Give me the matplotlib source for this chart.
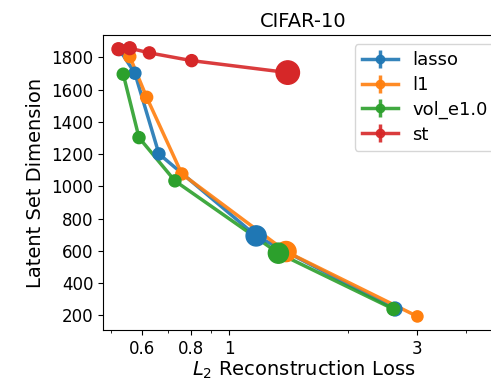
import matplotlib
matplotlib.use("Agg")
import matplotlib.pyplot as plt
from matplotlib.ticker import FixedLocator, NullFormatter
import numpy as np

# reconstruction loss (x) / latent set dimension (y) per method
names = ["lasso", "l1", "vol_e1.0", "st"]
colors = ["tab:blue", "tab:orange", "tab:green", "tab:red"]

lasso_x = [0.525, 0.575, 0.662, 1.17, 2.64]
lasso_y = [1848, 1701, 1201, 693, 240]
lasso_s = [75, 75, 75, 210, 100]

l1_x = [0.558, 0.616, 0.757, 1.394, 3.01]
l1_y = [1804, 1552, 1077, 596, 194]
l1_s = [75, 75, 75, 210, 65]

vol_x = [0.537, 0.589, 0.727, 1.333, 2.615]
vol_y = [1695, 1302, 1034, 586, 240]
vol_s = [75, 75, 75, 210, 85]

st_x = [0.522, 0.558, 0.626, 0.802, 1.408]
st_y = [1850, 1856, 1827, 1779, 1705]
st_s = [85, 85, 75, 75, 285]

xs = [lasso_x, l1_x, vol_x, st_x]
ys = [lasso_y, l1_y, vol_y, st_y]
sizes = [lasso_s, l1_s, vol_s, st_s]

fig = plt.figure(figsize=(4.91, 3.81), dpi=100)
ax = fig.add_axes([0.2098, 0.1339, 0.8167, 0.7743])

for x, y, s, c, name in zip(xs, ys, sizes, colors, names):
    ax.errorbar(x, y, yerr=np.zeros(len(y)), color=c, marker="o", markersize=6,
                linewidth=2.5, alpha=0.9, label=name)
    ax.scatter(x, y, s=s, color=c, zorder=3)

ax.set_xscale("log")
ax.set_xlim(0.477, 5.0)
ax.set_ylim(110, 1938)

ax.xaxis.set_major_locator(FixedLocator([0.6, 0.8, 1, 3]))
ax.set_xticklabels(["0.6", "0.8", "1", "3"])
ax.xaxis.set_minor_locator(FixedLocator([0.5, 0.7, 0.9, 2, 4]))
ax.xaxis.set_minor_formatter(NullFormatter())
ax.set_yticks([200, 400, 600, 800, 1000, 1200, 1400, 1600, 1800])
ax.tick_params(axis="both", which="major", labelsize=12)

ax.set_xlabel("$L_2$ Reconstruction Loss", fontsize=14, labelpad=1)
ax.set_ylabel("Latent Set Dimension", fontsize=14)
ax.set_title("CIFAR-10", fontsize=14)
ax.legend(loc="upper right", fontsize=13, labelspacing=0.37)

fig.savefig("out.png", dpi=100)
